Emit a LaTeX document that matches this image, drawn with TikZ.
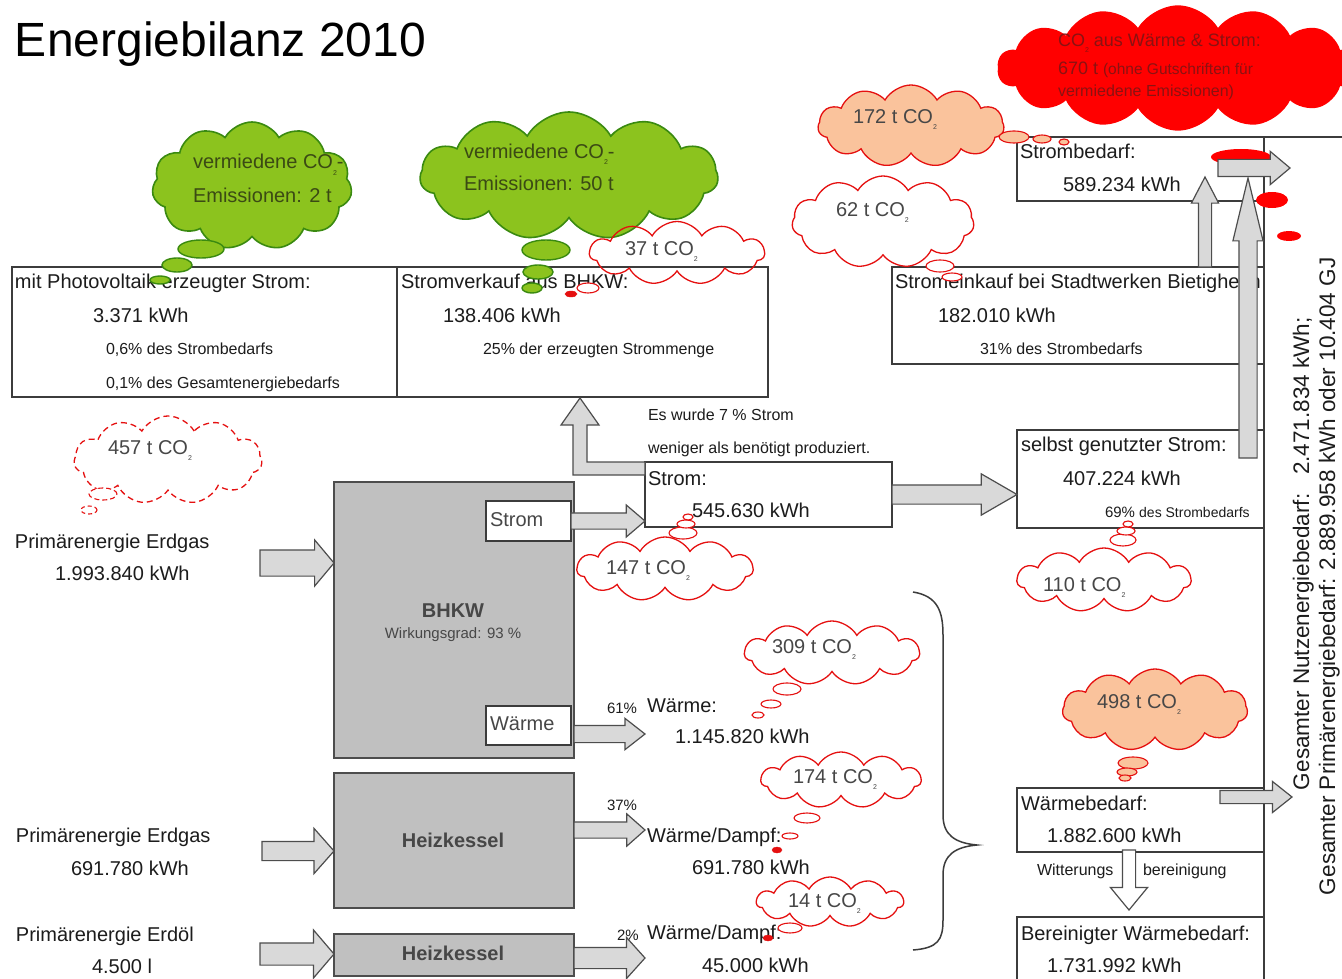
\documentclass[tikz,border=0pt]{standalone}
\usepackage{fontspec}
\setmainfont{Liberation Sans}
\usetikzlibrary{shapes.symbols,shapes.arrows,calc}
\definecolor{boxline}{HTML}{3C3C3C}
\definecolor{grayfill}{HTML}{C0C0C0}
\definecolor{afill}{HTML}{D9D9D9}
\definecolor{aline}{HTML}{4D4D4D}
\definecolor{cred}{HTML}{E51010}
\definecolor{bigred}{HTML}{FF0000}
\definecolor{orangef}{HTML}{FAC39C}
\definecolor{greenf}{HTML}{8CC31E}
\definecolor{greenl}{HTML}{3A8A10}
\definecolor{greentxt}{HTML}{3B4A14}
\definecolor{redtxt}{HTML}{8A1212}
\definecolor{ctxt}{HTML}{474747}
\definecolor{txt}{HTML}{1C1C1C}
\newcommand\cotwo{CO\raisebox{-0.3em}{\fontsize{7}{7}\selectfont 2}}
\newcommand\blockarrow[3][]{%
  \path let \p1=(#2), \p2=(#3),
    \n1={veclen(\x2-\x1,\y2-\y1)},
    \n2={atan2(\y2-\y1,\x2-\x1)} in
    node[barrow,#1,minimum height=\n1,rotate=\n2,anchor=tail] at (\p1) {};}
\tikzset{
  box/.style={draw=boxline, line width=1.3pt, fill=white, inner sep=0pt, outer sep=0pt, anchor=north west},
  graybox/.style={box, fill=grayfill, draw=aline},
  lbl/.style={anchor=base west, inner sep=0pt, outer sep=0pt, text=txt, font=\fontsize{20}{24}\selectfont},
  sml/.style={lbl, font=\fontsize{16}{19}\selectfont},
  pct/.style={lbl, font=\fontsize{15}{18}\selectfont},
  ctext/.style={lbl, text=ctxt},
  gtext/.style={lbl, text=greentxt},
  rtext/.style={lbl, text=redtxt, font=\fontsize{18}{21}\selectfont},
  cloudbase/.style={cloud, cloud puffs=11, cloud puff arc=120, cloud ignores aspect, inner sep=0pt, outer sep=0pt, line width=1.3pt},
  wcloud/.style={cloudbase, draw=cred},
  ocloud/.style={cloudbase, draw=cred, fill=orangef},
  gcloud/.style={cloudbase, draw=greenl, fill=greenf, line width=1.6pt},
  rcloud/.style={cloudbase, draw=bigred, fill=bigred},
  wpuff/.style={draw=cred, line width=1.1pt, fill=white},
  opuff/.style={draw=cred, line width=1.1pt, fill=orangef},
  gpuff/.style={draw=greenl, line width=1.4pt, fill=greenf},
  rpuff/.style={draw=cred, fill=cred},
  bpuff/.style={fill=bigred},
  barrow/.style={single arrow, draw=aline, fill=afill, line width=1.2pt, inner sep=0pt, outer sep=0pt, text height=0pt, text depth=0pt, single arrow head indent=0pt},
  ashaft/.style={inner ysep=#1/2},
  ahead/.style={single arrow head extend=#1},
  atip/.style={single arrow tip angle=#1},
  polyarrow/.style={draw=aline, fill=afill, line width=1.2pt, line join=miter},
}
\begin{document}
\begin{tikzpicture}[x=1pt,y=-1pt]
\useasboundingbox (0,0) rectangle (1342,979);
\fill[white] (0,0) rectangle (1342,979);

% title
\node[lbl, text=black, font=\fontsize{48}{56}\selectfont] (title) at (15,57) {Energiebilanz 2010};

% boxes
\node[box, minimum width=385, minimum height=130] (pv) at (12,267) {};
\node[box, minimum width=371, minimum height=130] (sv) at (397,267) {};
\node[box, minimum width=372, minimum height=97] (se) at (892,267) {};
\node[box, minimum width=247, minimum height=64] (sb) at (1017,137) {};
\node[box, minimum width=247, minimum height=65] (strom) at (645,462) {};
\node[box, minimum width=247, minimum height=98] (sg) at (1017,430) {};
\node[graybox, minimum width=240, minimum height=276] (bhkw) at (334,482) {};
\node[box, minimum width=85, minimum height=40] (bs) at (486,501) {};
\node[box, minimum width=85, minimum height=39] (bw) at (486,706) {};
\node[graybox, minimum width=240, minimum height=135] (hk1) at (334,773) {};
\node[graybox, minimum width=240, minimum height=42] (hk2) at (334,934) {};
\node[box, minimum width=247, minimum height=64] (wb) at (1017,788) {};
\node[box, minimum width=247, minimum height=80] (bwb) at (1017,917) {};
\draw[boxline, line width=1.3pt] (1350,137) -- (1264,137) -- (1264,990);

% brace
\draw[boxline, line width=1.5pt] (913,592) .. controls (938,596) and (943,612) .. (943,635) -- (943,815) .. controls (943,835) and (955,843) .. (977,845) .. controls (955,847) and (943,855) .. (943,875) -- (943,920) .. controls (943,940) and (938,948) .. (913,950);

% clouds
\node[gcloud, minimum width=200, minimum height=128] (g1) at (252,186) {};
\node[gcloud, minimum width=298, minimum height=128] (g2) at (569,176) {};
\node[wcloud, minimum width=175, minimum height=63] (c37) at (677,253) {};
\node[ocloud, minimum width=186, minimum height=82] (c172) at (911,126) {};
\node[wcloud, minimum width=182, minimum height=92] (c62) at (883,222) {};
\node[rcloud, cloud puffs=14, minimum width=360, minimum height=124] (cbig) at (1178,68) {};
\node[wcloud, dash pattern=on 6pt off 4pt, minimum width=188, minimum height=88] (c457) at (168,460) {};
\node[wcloud, minimum width=176, minimum height=64] (c147) at (665,569) {};
\node[wcloud, minimum width=174, minimum height=64] (c110) at (1104,580) {};
\node[wcloud, minimum width=175, minimum height=64] (c309) at (832,653) {};
\node[wcloud, minimum width=160, minimum height=56] (c174) at (841,780) {};
\node[wcloud, minimum width=147, minimum height=50] (c14) at (830,902) {};
\node[ocloud, minimum width=185, minimum height=82] (c498) at (1155,710) {};

% cloud texts
\node[gtext] (tg1a) at (193,169) {vermiedene \cotwo-};
\node[gtext] (tg1b) at (193,202) {Emissionen: 2 t};
\node[gtext] (tg2a) at (464,159) {vermiedene \cotwo-};
\node[gtext] (tg2b) at (464,190) {Emissionen: 50 t};
\node[ctext] (t37) at (625,255) {37 t \cotwo};
\node[ctext] (t172) at (853,124) {172 t \cotwo};
\node[ctext] (t62) at (836,216) {62 t \cotwo};
\node[ctext] (t457) at (108,454) {457 t \cotwo};
\node[ctext] (t147) at (606,574) {147 t \cotwo};
\node[ctext] (t110) at (1043,591) {110 t \cotwo};
\node[ctext] (t309) at (772,653) {309 t \cotwo};
\node[ctext] (t174) at (793,783) {174 t \cotwo};
\node[ctext] (t14) at (788,907) {14 t \cotwo};
\node[ctext] (t498) at (1097,708) {498 t \cotwo};
\node[rtext] (tr1) at (1058,47) {\cotwo{} aus Wärme \& Strom:};
\node[rtext] (tr2) at (1058,75) {670 t {\fontsize{15.5}{18}\selectfont (ohne Gutschriften für}};
\node[rtext, font=\fontsize{16}{19}\selectfont] (tr3) at (1058,97) {vermiedene Emissionen)};

% box texts
\node[lbl] (l1) at (15,288) {mit Photovoltaik erzeugter Strom:};
\node[lbl] (l2) at (93,322) {3.371 kWh};
\node[sml] (l3) at (106,354) {0,6\% des Strombedarfs};
\node[sml] (l4) at (106,388) {0,1\% des Gesamtenergiebedarfs};
\node[lbl] (l5) at (401,288) {Stromverkauf aus BHKW:};
\node[lbl] (l6) at (443,322) {138.406 kWh};
\node[sml] (l7) at (483,354) {25\% der erzeugten Strommenge};
\node[lbl] (l8) at (895,288) {Stromeinkauf bei Stadtwerken Bietigheim};
\node[lbl] (l9) at (938,322) {182.010 kWh};
\node[sml] (l10) at (980,354) {31\% des Strombedarfs};
\node[lbl] (l11) at (1020,159) {Strombedarf:};
\node[lbl] (l12) at (1063,192) {589.234 kWh};
\node[sml] (l13) at (648,420) {Es wurde 7 \% Strom};
\node[sml] (l14) at (648,453) {weniger als benötigt produziert.};
\node[lbl] (l15) at (648,485) {Strom:};
\node[lbl] (l16) at (692,517) {545.630 kWh};
\node[lbl] (l17) at (1021,451) {selbst genutzter Strom:};
\node[lbl] (l18) at (1063,485) {407.224 kWh};
\node[pct] (l19) at (1105,517) {69\% {\fontsize{14}{17}\selectfont des Strombedarfs}};
\node[lbl] (l20) at (15,548) {Primärenergie Erdgas};
\node[lbl] (l21) at (55,580) {1.993.840 kWh};
\node[lbl, text=ctxt] (l22) at (490,526) {Strom};
\node[lbl, text=ctxt] (l23) at (490,730) {Wärme};
\node[lbl, anchor=base, text=ctxt, font=\bfseries\fontsize{20}{24}\selectfont] (l24) at (453,617) {BHKW};
\node[lbl, anchor=base, text=ctxt, font=\fontsize{15}{18}\selectfont] (l25) at (453,638) {Wirkungsgrad: 93 \%};
\node[lbl, anchor=base, text=ctxt, font=\bfseries\fontsize{20}{24}\selectfont] (l26) at (453,847) {Heizkessel};
\node[lbl, anchor=base, text=ctxt, font=\bfseries\fontsize{20}{24}\selectfont] (l27) at (453,960) {Heizkessel};
\node[pct] (l28) at (607,713) {61\%};
\node[lbl] (l29) at (647,712) {Wärme:};
\node[lbl] (l30) at (675,743) {1.145.820 kWh};
\node[pct] (l31) at (607,810) {37\%};
\node[lbl] (l32) at (647,842) {Wärme/Dampf:};
\node[lbl] (l33) at (692,874) {691.780 kWh};
\node[pct] (l34) at (617,940) {2\%};
\node[lbl] (l35) at (647,939) {Wärme/Dampf:};
\node[lbl] (l36) at (702,972) {45.000 kWh};
\node[lbl] (l37) at (16,842) {Primärenergie Erdgas};
\node[lbl] (l38) at (71,875) {691.780 kWh};
\node[lbl] (l39) at (16,941) {Primärenergie Erdöl};
\node[lbl] (l40) at (92,973) {4.500 l};
\node[lbl] (l41) at (1021,810) {Wärmebedarf:};
\node[lbl] (l42) at (1047,842) {1.882.600 kWh};
\node[sml] (l43) at (1037,875) {Witterungs};
\node[sml] (l44) at (1143,875) {bereinigung};
\node[lbl] (l45) at (1021,940) {Bereinigter Wärmebedarf:};
\node[lbl] (l46) at (1047,972) {1.731.992 kWh};
\node[lbl, rotate=90, font=\fontsize{22.5}{26}\selectfont] (l47) at (1309,790) {Gesamter Nutzenergiebedarf:\ \ \ 2.471.834 kWh;};
\node[lbl, rotate=90, font=\fontsize{22.5}{26}\selectfont] (l48) at (1335,895) {Gesamter Primärenergiebedarf: 2.889.958 kWh oder 10.404 GJ};

% cloud trails
\draw[gpuff] (201,249) ellipse [x radius=23pt, y radius=9pt];
\draw[gpuff] (177,265) ellipse [x radius=15pt, y radius=7pt];
\draw[gpuff] (160,280) ellipse [x radius=10pt, y radius=4pt];
\draw[gpuff] (546,250) ellipse [x radius=24pt, y radius=10pt];
\draw[gpuff] (538,272) ellipse [x radius=15pt, y radius=7pt];
\draw[gpuff] (532,288) ellipse [x radius=10pt, y radius=5pt];
\draw[wpuff] (588,288) ellipse [x radius=11pt, y radius=5pt];
\draw[rpuff] (571,294) ellipse [x radius=6pt, y radius=3pt];
\draw[opuff] (1014,137) ellipse [x radius=15pt, y radius=6pt];
\draw[opuff] (1042,139) ellipse [x radius=9pt, y radius=4pt];
\draw[opuff] (1064,142) ellipse [x radius=5pt, y radius=3pt];
\draw[wpuff] (940,266) ellipse [x radius=14pt, y radius=6pt];
\draw[wpuff] (952,277) ellipse [x radius=10pt, y radius=4pt];
\draw[wpuff] (683,533) ellipse [x radius=14pt, y radius=6pt];
\draw[wpuff] (686,524) ellipse [x radius=9pt, y radius=4pt];
\draw[wpuff] (688,517) ellipse [x radius=5pt, y radius=3pt];
\draw[wpuff] (1123,540) ellipse [x radius=13pt, y radius=6pt];
\draw[wpuff] (1126,531) ellipse [x radius=9pt, y radius=4pt];
\draw[wpuff] (1128,524) ellipse [x radius=5pt, y radius=3pt];
\draw[wpuff] (787,689) ellipse [x radius=14pt, y radius=6pt];
\draw[wpuff] (771,704) ellipse [x radius=10pt, y radius=4pt];
\draw[wpuff] (758,715) ellipse [x radius=6pt, y radius=3pt];
\draw[wpuff] (807,818) ellipse [x radius=13pt, y radius=5pt];
\draw[wpuff] (790,836) ellipse [x radius=8pt, y radius=3pt];
\draw[rpuff] (777,850) ellipse [x radius=5pt, y radius=3pt];
\draw[wpuff] (790,928) ellipse [x radius=12pt, y radius=5pt];
\draw[rpuff] (768,938) ellipse [x radius=5pt, y radius=3pt];
\draw[opuff] (1133,763) ellipse [x radius=15pt, y radius=6pt];
\draw[opuff] (1127,772) ellipse [x radius=10pt, y radius=4pt];
\draw[opuff] (1125,778) ellipse [x radius=6pt, y radius=3pt];
\draw[wpuff, dash pattern=on 5pt off 3pt] (103,494) ellipse [x radius=14pt, y radius=6pt];
\draw[wpuff, dash pattern=on 4pt off 3pt] (89,510) ellipse [x radius=8pt, y radius=4pt];
\fill[bpuff] (1241,157) ellipse [x radius=30pt, y radius=8pt];
\fill[bpuff] (1272,200) ellipse [x radius=16pt, y radius=8pt];
\fill[bpuff] (1289,236) ellipse [x radius=12pt, y radius=5pt];

% block arrows
\coordinate (e1) at (260,563);
\coordinate (e2) at (262,851);
\coordinate (e3) at (260,954);
\coordinate (w1) at (574,734);
\coordinate (w1t) at (645,734);
\coordinate (k1) at (574,830);
\coordinate (k2) at (574,958);
\coordinate (u1) at (1205,267);
\coordinate (u1t) at (1205,177);
\coordinate (u2) at (1248,458);
\coordinate (u2t) at (1248,178);
\coordinate (h1) at (1218,168);
\coordinate (h1t) at (1290,168);
\coordinate (h2) at (1220,797);
\coordinate (h2t) at (1292,797);
\coordinate (d1) at (1129,850);
\coordinate (d1t) at (1129,910);
\blockarrow[ashaft=25,ahead=10,atip=100]{e1}{bhkw.west |- e1}
\blockarrow[ashaft=15,ahead=8,atip=81]{bs.east}{strom.west |- bs.east}
\blockarrow[ashaft=16,ahead=7,atip=76]{w1}{w1t}
\blockarrow[ashaft=18,ahead=11,atip=60]{strom.east}{sg.west |- strom.east}
\blockarrow[ashaft=18,ahead=13,atip=97]{e2}{hk1.west |- e2}
\blockarrow[ashaft=15,ahead=8,atip=83]{k1}{strom.west |- k1}
\blockarrow[ashaft=21,ahead=13,atip=99]{e3}{hk2.west |- e3}
\blockarrow[ashaft=20,ahead=10,atip=96]{k2}{strom.west |- k2}
\blockarrow[ashaft=12,ahead=7,atip=55]{u1}{u1t}
\blockarrow[ashaft=17,ahead=6,atip=27]{u2}{u2t}
\blockarrow[ashaft=16,ahead=8,atip=80]{h1}{h1t}
\blockarrow[ashaft=12,ahead=9,atip=77]{h2}{h2t}
\blockarrow[ashaft=12,ahead=12,atip=79,fill=white]{d1}{d1t}
\draw[polyarrow] (strom.north west) -- ++(-58,0) -- ++(0,-37) -- ++(12,0) -- ++(-19,-27) -- ++(-19,27) -- ++(12,0) -- ++(0,50) -- ++(72,0) -- cycle;
\end{tikzpicture}
\end{document}
